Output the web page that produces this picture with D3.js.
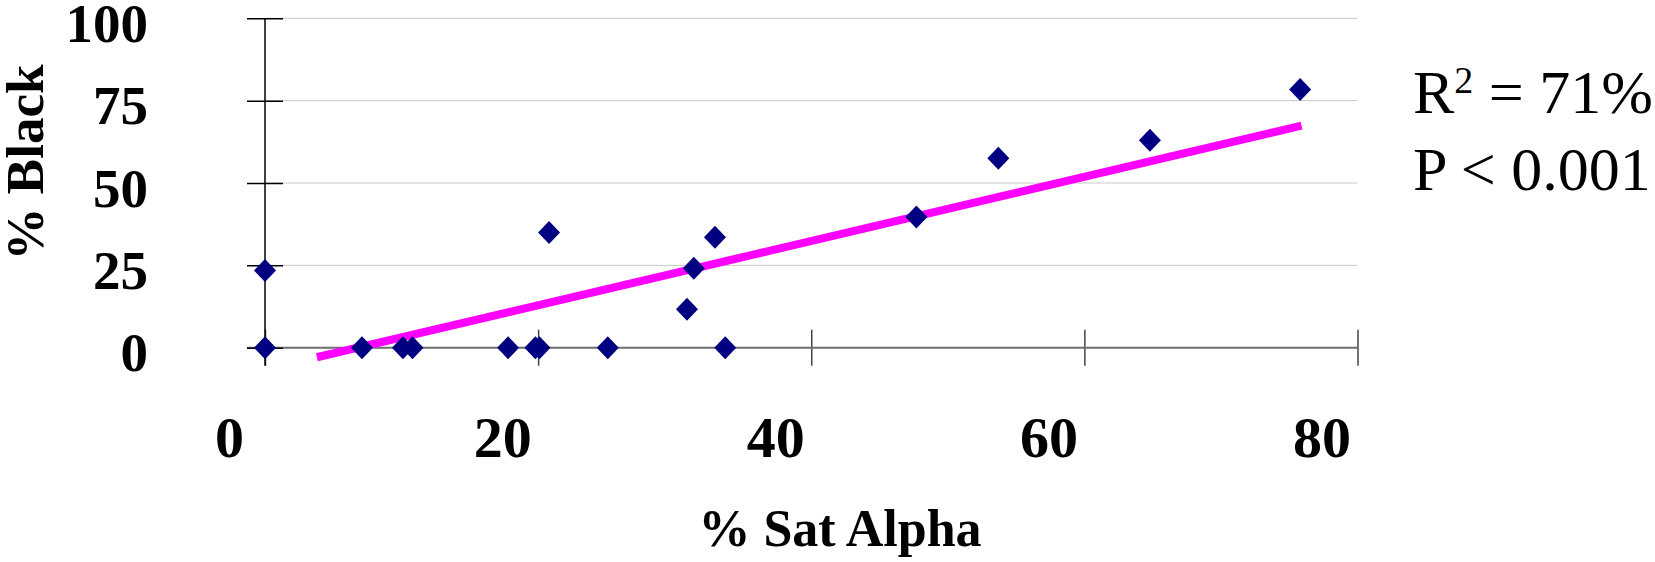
<!DOCTYPE html>
<html>
<head>
<meta charset="utf-8">
<script src="https://cdn.jsdelivr.net/npm/d3@7"></script>
<style>
  body { margin: 0; background: #fff; }
  svg { display: block; }
</style>
</head>
<body>
<script>
// % Sat Alpha (x) vs % Black (y)
var satAlpha = [0, 0, 7.1, 10.1, 10.8, 17.8, 19.8, 20.1, 20.8, 25.1, 30.9, 31.4, 32.95, 33.7, 47.7, 53.7, 64.8, 75.8];
var pctBlack = [0, 23.4, 0, 0, 0, 0, 0, 0, 35.0, 0, 11.7, 24.1, 33.5, 0, 39.7, 57.5, 63.0, 78.4];

// trend line end points
var trendX = [3.8, 75.9];
var trendY = [-2.9, 67.4];

var xTicks = [0, 20, 40, 60, 80];
var yTicks = [0, 25, 50, 75, 100];
var statLines = ["R2 = 71%", "P < 0.001"];

var w = 1655;
var h = 562;

var svg = d3.select("body")
            .append("svg")
            .attr("width", w)
            .attr("height", h);

svg.append("rect").attr("width", w).attr("height", h).attr("fill", "#fff");

var xScale = d3.scaleLinear()
            .domain([0, 80])
            .range([265, 1357.5]);

var yScale = d3.scaleLinear()
            .domain([0, 100])
            .range([347.7, 18.3]);

// gridlines
svg.selectAll(".grid")
    .data(yTicks.filter(function(d) { return d > 0; }))
    .enter()
    .append("line")
    .attr("x1", xScale(0))
    .attr("x2", xScale(80))
    .attr("y1", function(d) { return yScale(d); })
    .attr("y2", function(d) { return yScale(d); })
    .attr("stroke", "#c8c8c8")
    .attr("stroke-width", 1);

// x axis
var xAxis = d3.axisBottom(xScale)
    .tickValues(xTicks)
    .tickSize(0);

var gx = svg.append("g")
    .attr("transform", "translate(0," + yScale(0) + ")")
    .call(xAxis);
gx.select(".domain").remove();
gx.selectAll(".tick line")
    .attr("y1", -18)
    .attr("y2", 18)
    .attr("stroke", "#444")
    .attr("stroke-width", 1.5);
gx.selectAll(".tick text")
    .attr("x", -36)
    .attr("y", 109)
    .attr("dy", 0)
    .attr("font-family", "Liberation Serif, Times New Roman, serif")
    .attr("font-weight", "bold")
    .attr("font-size", "58px")
    .attr("fill", "#000");

svg.append("line")
    .attr("x1", xScale(0) - 18)
    .attr("x2", xScale(80))
    .attr("y1", yScale(0))
    .attr("y2", yScale(0))
    .attr("stroke", "#6e6e6e")
    .attr("stroke-width", 2);

// y axis
var yAxis = d3.axisLeft(yScale)
    .tickValues(yTicks)
    .tickSize(0);

var gy = svg.append("g")
    .attr("transform", "translate(" + xScale(0) + ",0)")
    .call(yAxis);
gy.select(".domain").remove();
gy.selectAll(".tick line")
    .attr("x1", -18)
    .attr("x2", 18)
    .attr("stroke", "#000")
    .attr("stroke-width", 1.5);
gy.selectAll(".tick text")
    .attr("x", -117)
    .attr("dy", 23)
    .attr("text-anchor", "end")
    .attr("font-family", "Liberation Serif, Times New Roman, serif")
    .attr("font-weight", "bold")
    .attr("font-size", "55px")
    .attr("fill", "#000");

svg.append("line")
    .attr("x1", xScale(0))
    .attr("x2", xScale(0))
    .attr("y1", yScale(100))
    .attr("y2", yScale(0) + 18)
    .attr("stroke", "#000")
    .attr("stroke-width", 1.5);

// trend line
var trend = trendX.map(function(d, i) { return [d, trendY[i]]; });
svg.append("path")
    .datum(trend)
    .attr("d", d3.line()
        .x(function(d) { return xScale(d[0]); })
        .y(function(d) { return yScale(d[1]); }))
    .attr("stroke", "#ff00ff")
    .attr("stroke-width", 8)
    .attr("fill", "none");

// points
var pts = satAlpha.map(function(d, i) { return [d, pctBlack[i]]; });
svg.selectAll(".pt")
    .data(pts)
    .enter()
    .append("path")
    .attr("class", "pt")
    .attr("d", "M0,-11.5L11,0L0,11.5L-11,0Z")
    .attr("transform", function(d) {
        return "translate(" + xScale(d[0]) + "," + yScale(d[1]) + ")";
    })
    .attr("fill", "#000080");

// axis titles
svg.append("text")
    .text("% Sat Alpha")
    .attr("x", 840)
    .attr("y", 546)
    .attr("text-anchor", "middle")
    .attr("font-family", "Liberation Serif, Times New Roman, serif")
    .attr("font-weight", "bold")
    .attr("font-size", "52px");

svg.append("text")
    .text("% Black")
    .attr("transform", "translate(43,162.5) rotate(-90)")
    .attr("text-anchor", "middle")
    .attr("font-family", "Liberation Serif, Times New Roman, serif")
    .attr("font-weight", "bold")
    .attr("font-size", "53px");

// stats
var r2 = svg.append("text")
    .attr("x", 1413)
    .attr("y", 112.5)
    .attr("font-family", "Liberation Serif, Times New Roman, serif")
    .attr("font-size", "62px");
r2.append("tspan").text(statLines[0].slice(0, 1));
r2.append("tspan").text(statLines[0].slice(1, 2)).attr("font-size", "38px").attr("dy", -20);
r2.append("tspan").text(statLines[0].slice(2)).attr("dy", 20);

svg.append("text")
    .text(statLines[1])
    .attr("x", 1413)
    .attr("y", 190)
    .attr("font-family", "Liberation Serif, Times New Roman, serif")
    .attr("font-size", "62px");
</script>
</body>
</html>
